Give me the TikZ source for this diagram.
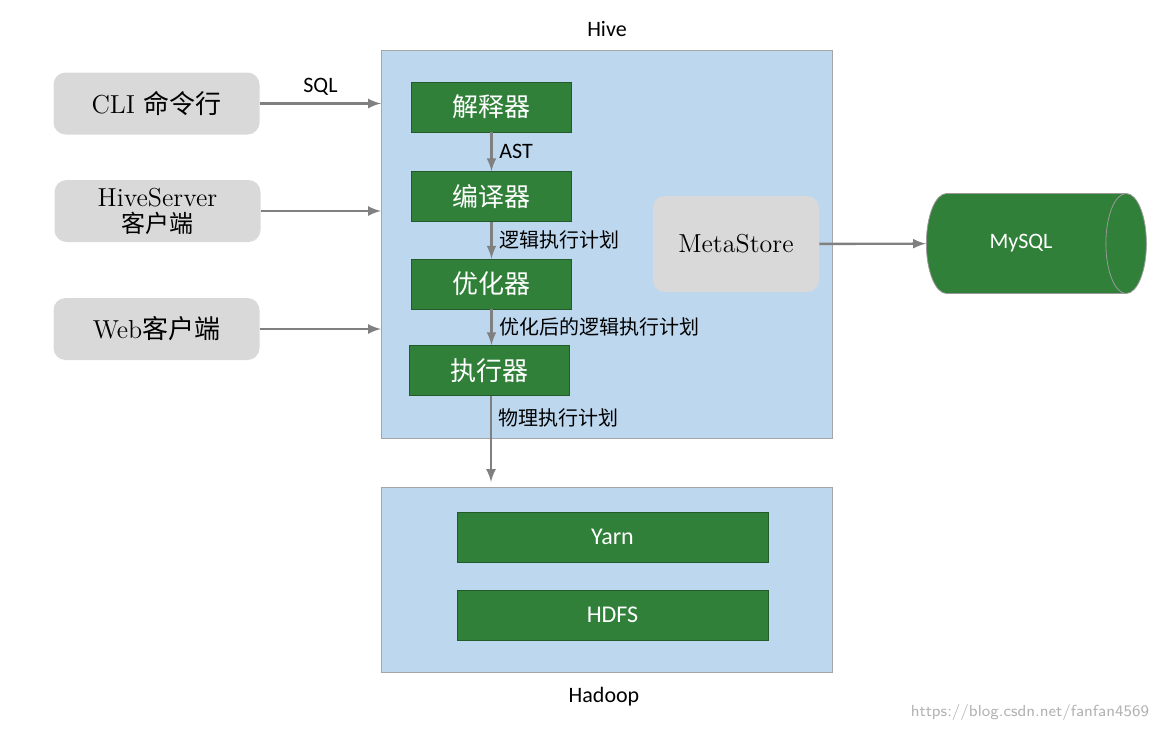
\documentclass[tikz,border=0pt]{standalone}
\usepackage{fontspec}
\newfontfamily\cjk{Noto Sans CJK SC}
\newfontfamily\carl{Carlito}
\usetikzlibrary{shapes.geometric, positioning}
\definecolor{hiveblue}{HTML}{BDD7EE}
\definecolor{stepgreen}{HTML}{31803A}
\definecolor{clientgray}{HTML}{D9D9D9}
\tikzset{
  stage/.style={shape=rectangle, minimum height=25pt, minimum width=80pt, draw=stepgreen!70!black, fill=stepgreen, text=white, font=\cjk\fontsize{13}{15}\selectfont},
  client/.style={shape=rectangle, rounded corners=6pt, minimum height=31pt, minimum width=103pt, fill=clientgray, align=center, font=\fontsize{13}{14}\selectfont},
  flow/.style={->, >=latex, draw=black!50, line width=1.2pt},
  lbl/.style={font=\cjk\fontsize{10}{12}\selectfont}
}
\begin{document}
\begin{tikzpicture}[x=0.5pt, y=-0.5pt]
\useasboundingbox (0,0) rectangle (1153,730);
%Hive
\node[shape=rectangle, minimum width=225.5pt, minimum height=194pt, draw=black!35, fill=hiveblue] (hive) at (606.5,244) {};
\node[font=\carl\fontsize{11}{13}\selectfont] at (607,29) {Hive};
\node[stage] (interp) at (491.5,107) {解释器};
\node[stage] (comp) at (491.5,196.5) {编译器};
\node[stage] (opt) at (491.5,284) {优化器};
\node[stage] (exec) at (489.5,370.5) {执行器};
\node[client, minimum width=83pt, minimum height=48pt] (meta) at (736,244) {MetaStore};
\node[shape=cylinder, minimum height=110pt, minimum width=50pt, aspect=1.3, draw=black!40, fill=stepgreen, text=white, font=\carl\fontsize{11}{13}\selectfont] (mysql) at (1021,243.5) {MySQL};
%clients
\node[client] (cli) at (156.5,103.5) {CLI {\cjk 命令行}};
\node[client, inner sep=1pt] (hs) at (157.5,211) {HiveServer\\[-1pt]{\cjk\fontsize{12}{13}\selectfont 客户端}};
\node[client] (web) at (156.5,329) {Web{\cjk 客户端}};
\coordinate (incli) at (381,103.5);
\coordinate (inhs) at (381,211);
\coordinate (inweb) at (381,329);
\draw[flow] (cli) -- (incli) node[midway, above, font=\carl\fontsize{11}{13}\selectfont] {SQL};
\draw[flow] (hs) -- (inhs);
\draw[flow] (web) -- (inweb);
%stages
\draw[flow] (interp) -- (comp) node[midway, right, font=\carl\fontsize{11}{13}\selectfont] {AST};
\draw[flow] (comp) -- (opt) node[midway, right, lbl] {逻辑执行计划};
\draw[flow] (opt.south) -- (opt.south |- exec.north) node[midway, right, lbl] {优化后的逻辑执行计划};
\coordinate (down) at (491,482);
\draw[flow] (exec.south -| down) -- (down) node[pos=0.25, right, lbl] {物理执行计划};
\draw[flow] (meta) -- (mysql);
%Hadoop
\node[shape=rectangle, minimum width=225.5pt, minimum height=92.5pt, draw=black!35, fill=hiveblue] (hadoop) at (606.5,579.5) {};
\node[stage, minimum width=155.5pt, font=\carl\fontsize{12}{14}\selectfont] (yarn) at (612.5,537) {Yarn};
\node[stage, minimum width=155.5pt, font=\carl\fontsize{12}{14}\selectfont] (hdfs) at (612.5,615) {HDFS};
\node[font=\carl\fontsize{11}{13}\selectfont] at (604,697) {Hadoop};
\node[text=black!30, font=\sffamily\fontsize{8}{10}\selectfont] at (1030,712) {https://blog.csdn.net/fanfan4569};
\end{tikzpicture}
\end{document}
